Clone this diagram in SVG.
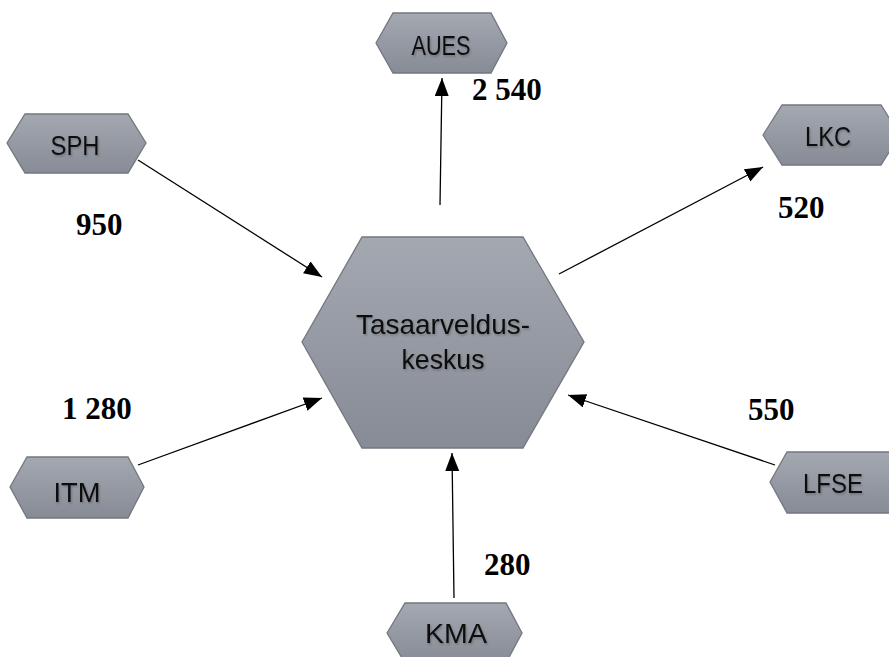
<svg xmlns="http://www.w3.org/2000/svg" width="889" height="657" viewBox="0 0 889 657">
<style>
.hex{fill:url(#g);stroke:#737780;stroke-width:1.3}
.lbl{font-family:"Liberation Sans",Arial,sans-serif;font-size:28px;fill:#111;text-anchor:middle;filter:url(#ts)}
.num{font-family:"Liberation Serif","Times New Roman",serif;font-weight:bold;font-size:31px;fill:#000}
.con line{stroke:#000;stroke-width:1.3;marker-end:url(#ah)}
</style>
<defs>
<linearGradient id="g" x1="0" y1="0" x2="0" y2="1">
<stop offset="0" stop-color="#a4a8b1"/>
<stop offset="1" stop-color="#878b95"/>
</linearGradient>
<filter id="ts" x="-10%" y="-20%" width="120%" height="150%">
<feDropShadow dx="1" dy="1.5" stdDeviation="1" flood-color="#000" flood-opacity="0.25"/>
</filter>
<marker id="ah" markerUnits="userSpaceOnUse" markerWidth="20" markerHeight="16" refX="18" refY="7" orient="auto">
<path d="M0,0 L18,7 L0,14 z" fill="#000"/>
</marker>
</defs>
<rect width="889" height="657" fill="#fff"/>
<g class="con" id="connectors">
<line x1="440" y1="205" x2="442" y2="78"/>
<line x1="138" y1="160" x2="322" y2="277"/>
<line x1="559" y1="274" x2="763" y2="167"/>
<line x1="138" y1="465" x2="322" y2="398"/>
<line x1="775" y1="465" x2="568" y2="395"/>
<line x1="454" y1="598" x2="452" y2="453"/>
</g>
<g id="center">
<polygon class="hex" points="302,342 362,237 523,237 584,342 523,448 362,448"/>
<text class="lbl" x="443" y="334" textLength="174" lengthAdjust="spacingAndGlyphs">Tasaarveldus-</text>
<text class="lbl" x="443" y="369" textLength="83" lengthAdjust="spacingAndGlyphs">keskus</text>
</g>
<g id="aues">
<polygon class="hex" points="376,43 393,13 491,13 507,43 491,73 393,73"/>
<text class="lbl" x="441" y="55" textLength="59" lengthAdjust="spacingAndGlyphs">AUES</text>
</g>
<g id="sph">
<polygon class="hex" points="7,143 25,114 128,114 146,143 128,173 25,173"/>
<text class="lbl" x="75" y="155" textLength="49" lengthAdjust="spacingAndGlyphs">SPH</text>
</g>
<g id="lkc">
<polygon class="hex" points="763,135 782,105 881,105 900,135 881,165 782,165"/>
<text class="lbl" x="828" y="146" textLength="46" lengthAdjust="spacingAndGlyphs">LKC</text>
</g>
<g id="itm">
<polygon class="hex" points="10,487 27,457 128,457 144,487 128,518 27,518"/>
<text class="lbl" x="77" y="502" textLength="47" lengthAdjust="spacingAndGlyphs">ITM</text>
</g>
<g id="lfse">
<polygon class="hex" points="770,482 787,452 890,452 907,482 890,513 787,513"/>
<text class="lbl" x="833" y="493" textLength="60" lengthAdjust="spacingAndGlyphs">LFSE</text>
</g>
<g id="kma">
<polygon class="hex" points="387,633 405,603 506,603 522,633 506,663 405,663"/>
<text class="lbl" x="456" y="643" textLength="62" lengthAdjust="spacingAndGlyphs">KMA</text>
</g>
<g id="labels">
<text class="num" x="472" y="100">2 540</text>
<text class="num" x="76" y="235">950</text>
<text class="num" x="778" y="218">520</text>
<text class="num" x="62" y="419">1 280</text>
<text class="num" x="748" y="420">550</text>
<text class="num" x="484" y="575">280</text>
</g>
</svg>
